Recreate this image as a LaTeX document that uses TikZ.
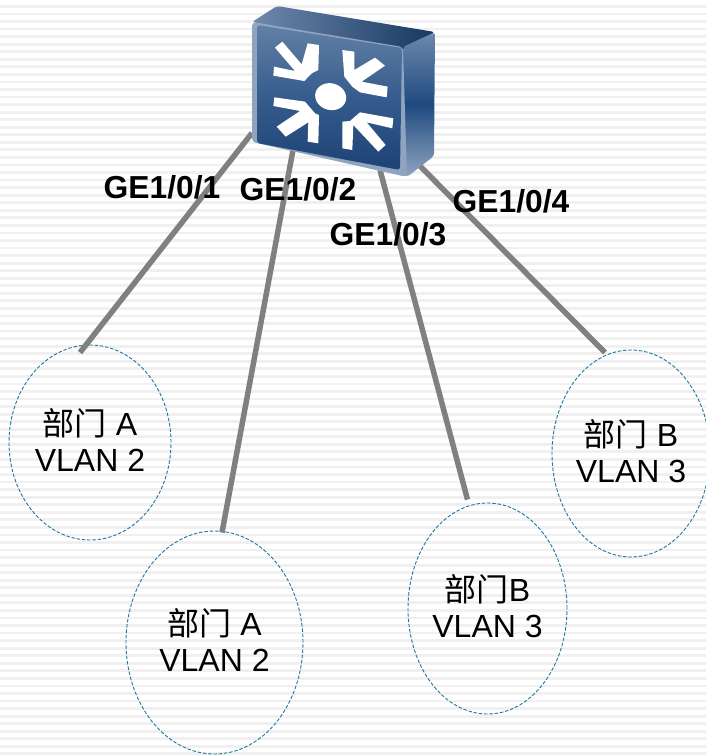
\documentclass[tikz,border=0pt]{standalone}
\usepackage{fontspec}
\setmainfont{Liberation Sans}
\newfontfamily\cjk{Noto Sans CJK SC}
\usetikzlibrary{shapes.geometric}
\definecolor{stripe}{HTML}{F0F0F0}
\definecolor{wire}{HTML}{808080}
\definecolor{dash}{HTML}{1F76A3}
\definecolor{navy}{HTML}{1F4A80}
\newcommand{\lift}{\rule[-6pt]{0pt}{6pt}}
\tikzset{
  group/.style={ellipse,draw=dash,line width=0.9pt,dash pattern=on 3.5pt off 1.8pt,inner sep=0pt,align=center,font=\fontsize{32}{36}\selectfont},
  wirel/.style={draw=wire,line width=5.5pt},
  port/.style={font=\fontsize{31.8}{36}\selectfont\bfseries,inner sep=0pt},
  glyph/.style={fill=white,draw=none}
}
\begin{document}
\begin{tikzpicture}[x=1pt,y=-1pt]
\useasboundingbox (0,0) rectangle (706,755);
\fill[white] (0,0) rectangle (706,755);
\foreach \i in {0,...,99}{
  \fill[stripe] (0,{5+7.55*\i}) rectangle (706,{7.8+7.55*\i});
}
% groups
\node[group,minimum width=162pt,minimum height=195pt] (e1) at (90,442.5) {{\cjk 部门} A\\VLAN 2\lift};
\node[group,minimum width=177pt,minimum height=223pt] (e2) at (214.5,642.5) {{\cjk 部门} A\\VLAN 2\lift};
\node[group,minimum width=159pt,minimum height=211pt] (e3) at (487.5,608.5) {{\cjk 部门}B\\VLAN 3\lift};
\node[group,minimum width=158pt,minimum height=207pt] (e4) at (631,453.5) {{\cjk 部门} B\\VLAN 3\lift};
% switch anchors
\coordinate (s1) at (252,133);
\coordinate (s2) at (293,150);
\coordinate (s3) at (380,170);
\coordinate (s4) at (420,166);
\draw[wirel] (s1) -- ([xshift=-10pt,yshift=-8pt]e1.north);
\draw[wirel] (s2) -- ([xshift=7.5pt,yshift=-2pt]e2.north);
\draw[wirel] (s3) -- ([xshift=-20pt,yshift=3pt]e3.north);
\draw[wirel] (s4) -- ([xshift=-26pt,yshift=-3pt]e4.north);
% switch body
\path[left color=navy!65!white,right color=navy!75!black,rounded corners=3pt] (252,22) -- (277,6) -- (435,32) -- (403,50) -- cycle;
\path[top color=navy!65!white,bottom color=navy!50!white,middle color=navy,rounded corners=3pt] (403,47) -- (435,32) -- (434,156) -- (407,177) -- (400,172) -- cycle;
\path[fill=navy!50!white,rounded corners=4pt] (252,22) -- (403,47) -- (407,177) -- (252,142) -- cycle;
\path[top color=navy!70!white,bottom color=navy!90!black,middle color=navy!90!white,rounded corners=3pt] (257,25) -- (402,48) -- (400,170) -- (257,143) -- cycle;
% arrows
\begin{scope}[shift={(265,35)},x=0.3333pt,y=-0.3333pt]
\fill[glyph] (30,38) -- (52,20) -- (110,88) -- (128,25) -- (162,30) -- (160,105) -- (140,115) -- (118,138) -- (25,122) -- (27,95) -- (90,108) -- cycle;
\fill[glyph] (232,45) -- (268,50) -- (268,105) -- (330,68) -- (360,92) -- (290,140) -- (368,155) -- (365,187) -- (285,172) -- (262,155) -- (238,125) -- cycle;
\fill[glyph] (28,187) -- (120,200) -- (150,235) -- (162,240) -- (160,325) -- (128,320) -- (130,262) -- (62,305) -- (35,275) -- (105,228) -- (25,213) -- cycle;
\fill[glyph] (285,232) -- (385,250) -- (382,280) -- (305,262) -- (362,330) -- (340,350) -- (265,270) -- (262,345) -- (232,340) -- (232,260) -- (255,258) -- cycle;
\fill[glyph,rotate around={-15:(197,185)}] (197,185) ellipse [x radius=47,y radius=40];
\end{scope}
% port labels
\node[port] (p1) at (162,187) {GE1/0/1};
\node[port] (p2) at (298,189) {GE1/0/2};
\node[port] (p3) at (388,234) {GE1/0/3};
\node[port] (p4) at (511,201) {GE1/0/4};
\end{tikzpicture}
\end{document}
